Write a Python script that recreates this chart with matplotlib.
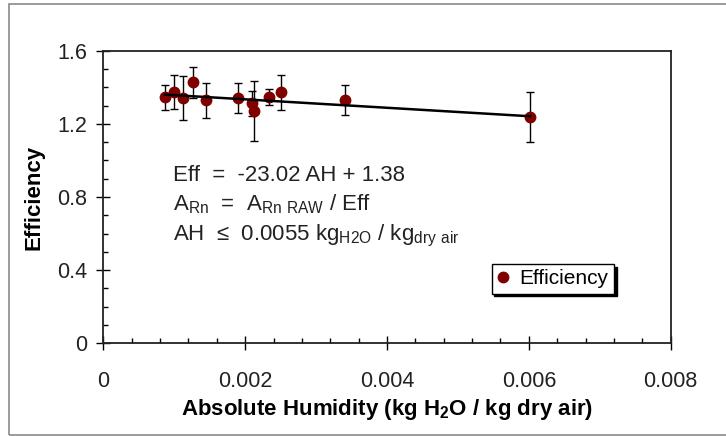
import numpy as np
import matplotlib
matplotlib.use('Agg')
import matplotlib.pyplot as plt
from matplotlib.patches import Rectangle

plt.rcParams['font.family'] = ['Liberation Sans', 'DejaVu Sans']
plt.rcParams['mathtext.fontset'] = 'custom'
plt.rcParams['mathtext.rm'] = 'Liberation Sans'
plt.rcParams['mathtext.bf'] = 'Liberation Sans:bold'

# data
ah = [0.00087, 0.00100, 0.00113, 0.00126, 0.00145, 0.00190,
      0.00209, 0.00212, 0.00234, 0.00250, 0.00341, 0.00602]
eff = [1.345, 1.373, 1.341, 1.427, 1.328, 1.341,
       1.312, 1.272, 1.348, 1.372, 1.330, 1.238]
eff_err = [0.070, 0.094, 0.120, 0.085, 0.098, 0.080,
           0.070, 0.164, 0.045, 0.097, 0.082, 0.138]
slope, intercept = -23.02, 1.38
x_ticks = [0, 0.002, 0.004, 0.006, 0.008]
y_ticks = [0, 0.4, 0.8, 1.2, 1.6]

dark_red = '#800000'

fig = plt.figure(figsize=(7.26, 4.36), dpi=100)
ax = fig.add_axes([103.3 / 726, 1 - 343.3 / 436, 567.4 / 726, 292.6 / 436])

# outer frame
fig.patches.append(Rectangle((9 / 726, 1 / 436), 1.0, 431 / 436, transform=fig.transFigure,
                             fill=False, edgecolor='#8a8a8a', linewidth=1.2, clip_on=False))

ax.errorbar(ah, eff, yerr=eff_err, fmt='none', ecolor='black', elinewidth=1.0,
            capsize=3, capthick=1.0, zorder=2)
ax.plot(ah, eff, 'o', color=dark_red, markersize=7.5, label='Efficiency', zorder=3)

# fit line
fx = np.array([min(ah), max(ah)])
ax.plot(fx, slope * fx + intercept, color='black', linewidth=1.8, zorder=4)

ax.set_xlim(0, 0.008)
ax.set_ylim(0, 1.6)
ax.set_xticks(x_ticks)
ax.set_xticklabels(['0', '0.002', '0.004', '0.006', '0.008'])
ax.set_yticks(y_ticks)
ax.set_yticklabels(['0', '0.4', '0.8', '1.2', '1.6'])
ax.set_xticks(np.arange(0, 0.0081, 0.0004), minor=True)
ax.set_yticks(np.arange(0, 1.61, 0.1), minor=True)
ax.tick_params(which='major', direction='inout', length=9.5, width=1.0, labelsize=15.5,
               colors='black', labelcolor='#222222')
ax.tick_params(axis='x', which='major', pad=15)
ax.tick_params(axis='y', which='major', pad=7)
ax.tick_params(which='minor', direction='in', length=3.8, width=1.0)
for s in ax.spines.values():
    s.set_linewidth(1.3)
    s.set_color('#222222')

ax.set_xlabel(r'Absolute Humidity (kg H$_\mathbf{2}$O / kg dry air)', fontsize=16,
              fontweight='bold', labelpad=4)
ax.set_ylabel('Efficiency', fontsize=16, fontweight='bold', labelpad=9)

eq_kw = dict(transform=ax.transAxes, fontsize=16, color='#222222', va='baseline', ha='left')
x0 = (173 - 103.3) / 567.4
ax.text(x0, (343.3 - 181) / 292.6, 'Eff  =  -23.02 AH + 1.38', **eq_kw)
ax.text(x0, (343.3 - 210) / 292.6,
        r'A$_{\mathrm{Rn}}$  =  A$_{\mathrm{Rn\ RAW}}$ / Eff', **eq_kw)
ax.text(x0, (343.3 - 240) / 292.6,
        r'AH  ≤  0.0055 kg$_{\mathrm{H2O}}$ / kg$_{\mathrm{dry\ air}}$', **eq_kw)

leg = ax.legend(loc='center', bbox_to_anchor=(0.792, 0.22), fontsize=15,
                frameon=True, fancybox=False, edgecolor='black', framealpha=1,
                shadow={'color': 'black', 'alpha': 1}, handlelength=0.6,
                handletextpad=0.5, borderpad=0.25, borderaxespad=0)
leg.get_frame().set_linewidth(1.0)

fig.savefig('out.png', dpi=100)
